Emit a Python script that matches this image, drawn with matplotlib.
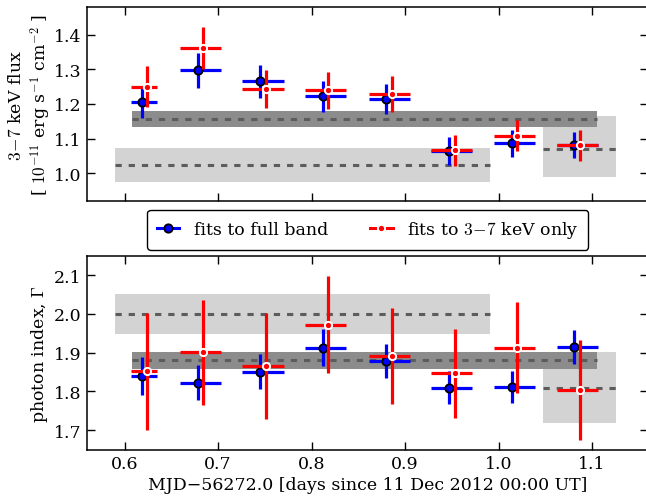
import matplotlib
matplotlib.use("Agg")
import matplotlib.pyplot as plt
from matplotlib.lines import Line2D
import numpy as np

plt.rcParams['font.family'] = 'serif'
plt.rcParams['font.serif'] = ['DejaVu Serif']
plt.rcParams['mathtext.fontset'] = 'cm'
plt.rcParams['font.size'] = 12.5
plt.rcParams['lines.scale_dashes'] = False

# time bins (MJD - 56272.0): bin centres and half widths
t_mid = [0.621, 0.681, 0.748, 0.815, 0.883, 0.950, 1.017, 1.084]
t_hw = [0.014, 0.022, 0.022, 0.022, 0.022, 0.022, 0.022, 0.022]
t_offset = 0.003  # small display shift between the two fit types

# 3-7 keV flux [1e-11 erg/s/cm2]
flux_full = [1.205, 1.297, 1.265, 1.222, 1.215, 1.065, 1.086, 1.081]
flux_full_err = [0.045, 0.050, 0.047, 0.045, 0.044, 0.040, 0.038, 0.038]
flux_hard = [1.250, 1.362, 1.243, 1.239, 1.229, 1.066, 1.109, 1.081]
flux_hard_err = [0.060, 0.060, 0.056, 0.054, 0.051, 0.045, 0.045, 0.045]

# photon index
gamma_full = [1.839, 1.822, 1.851, 1.913, 1.878, 1.810, 1.811, 1.915]
gamma_full_err = [0.049, 0.045, 0.045, 0.047, 0.044, 0.042, 0.041, 0.043]
gamma_hard = [1.852, 1.901, 1.866, 1.972, 1.891, 1.847, 1.913, 1.804]
gamma_hard_err = [0.150, 0.136, 0.137, 0.125, 0.124, 0.115, 0.118, 0.128]

# reference bands: x start, x end, value, low, high, shade
band_x0 = [0.590, 1.047, 0.608]
band_x1 = [0.991, 1.125, 1.105]
band_shade = ['#d3d3d3', '#d3d3d3', '#8c8c8c']
flux_band_val = [1.025, 1.071, 1.157]
flux_band_lo = [0.976, 0.988, 1.134]
flux_band_hi = [1.074, 1.164, 1.180]
gamma_band_val = [2.000, 1.810, 1.880]
gamma_band_lo = [1.949, 1.719, 1.859]
gamma_band_hi = [2.050, 1.901, 1.901]

xticks = [0.6, 0.7, 0.8, 0.9, 1.0, 1.1]

fig = plt.figure(figsize=(6.46, 5.02), dpi=100)
ax1 = fig.add_axes([0.1351, 0.5976, 0.8684, 0.3865])
ax2 = fig.add_axes([0.1351, 0.1022, 0.8684, 0.3865])

t_mid = np.array(t_mid)
t_hw = np.array(t_hw)

def draw(ax, vals, lo, hi, yf, yfe, yh, yhe):
    for x0, x1, v, l, h, c in zip(band_x0, band_x1, vals, lo, hi, band_shade):
        ax.fill_between([x0, x1], [l, l], [h, h], color=c, lw=0, zorder=1 if c == '#d3d3d3' else 2)
        ax.plot([x0, x1], [v, v], color='#5c5c5c', lw=2.2, dashes=(4.5, 5.0), zorder=3)
    xb = t_mid - t_offset
    ax.errorbar(xb, yf, yerr=yfe, xerr=[t_hw - t_offset, t_hw + t_offset], fmt='o',
                color='b', ecolor='b', elinewidth=2.3, capsize=0, ms=6, mfc='b',
                mec='k', mew=1.3, zorder=4)
    xr = t_mid + t_offset
    ax.errorbar(xr, yh, yerr=yhe, xerr=[t_hw + t_offset, t_hw - t_offset], fmt='o',
                color='r', ecolor='r', elinewidth=2.3, capsize=0, ms=5.2, mfc='r',
                mec='w', mew=1.4, zorder=5)
    ax.set_xlim(0.56, 1.16)
    ax.set_xticks(xticks)
    ax.tick_params(direction='in', length=6, width=1, top=True, right=True, pad=4)
    for s in ax.spines.values():
        s.set_linewidth(1.1)

draw(ax1, flux_band_val, flux_band_lo, flux_band_hi, flux_full, flux_full_err, flux_hard, flux_hard_err)
draw(ax2, gamma_band_val, gamma_band_lo, gamma_band_hi, gamma_full, gamma_full_err, gamma_hard, gamma_hard_err)

ax1.set_ylim(0.92, 1.48)
ax1.set_yticks([1.0, 1.1, 1.2, 1.3, 1.4])
ax1.set_yticklabels(['1.0', '1.1', '1.2', '1.3', '1.4'])
ax1.set_xticklabels([])
ax1.set_ylabel('$3\\!-\\!7$ keV flux\n[ $10^{-11}$ erg s$^{-1}$ cm$^{-2}$ ]', va='center', ha='center')
ax1.yaxis.set_label_coords(-0.101, 0.5)

ax2.set_ylim(1.65, 2.15)
ax2.set_yticks([1.7, 1.8, 1.9, 2.0, 2.1])
ax2.set_yticklabels(['1.7', '1.8', '1.9', '2.0', '2.1'])
ax2.set_xticklabels(['0.6', '0.7', '0.8', '0.9', '1.0', '1.1'])
ax2.set_ylabel('photon index, $\\Gamma$', va='center', ha='center')
ax2.yaxis.set_label_coords(-0.085, 0.5)
ax2.set_xlabel('MJD\u221256272.0 [days since 11 Dec 2012 00:00 UT]', labelpad=3)

h_full = Line2D([0], [0], color='b', lw=2.2, marker='o', ms=6, mfc='b', mec='k', mew=1.3)
h_hard = Line2D([0], [0], color='r', lw=2.2, marker='o', ms=5.2, mfc='r', mec='w', mew=1.4)
leg = ax1.legend([h_full, h_hard], ['fits to full band', 'fits to $3\\!-\\!7$ keV only'],
                 loc='center', bbox_to_anchor=(0.5, -0.148), ncol=2, fancybox=True,
                 framealpha=1, edgecolor='k', columnspacing=2.4, handlelength=1.3,
                 handletextpad=0.85, borderpad=0.55, fontsize=12.5)
leg.get_frame().set_linewidth(1.0)

fig.savefig('out.png', dpi=100)
